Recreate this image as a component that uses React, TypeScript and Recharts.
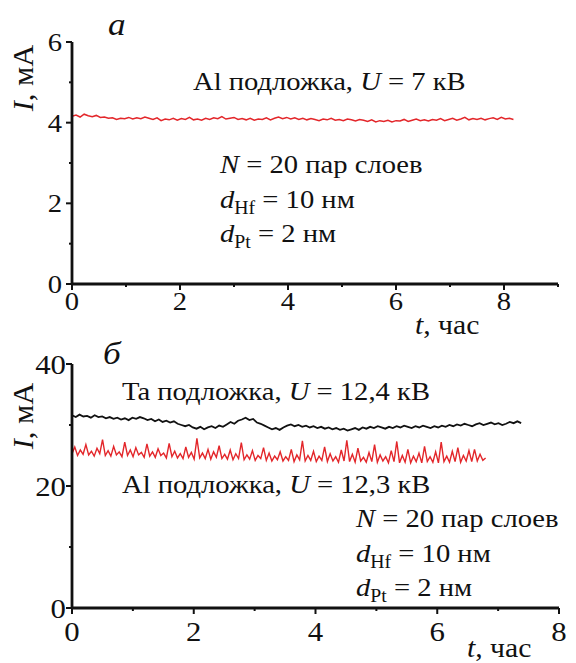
import { LineChart, Line, XAxis, YAxis } from "recharts"

// panel a: Al substrate, U = 7 kV, current in mA, sampled every STEP_A hours
const STEP_A = 0.075
const currentAlA = [
  4.16, 4.19, 4.14, 4.21, 4.17, 4.15, 4.18, 4.13, 4.14, 4.11,
  4.12, 4.08, 4.11, 4.1, 4.13, 4.09, 4.12, 4.1, 4.14, 4.11,
  4.08, 4.12, 4.05, 4.09, 4.07, 4.11, 4.06, 4.1, 4.08, 4.13,
  4.07, 4.09, 4.06, 4.11, 4.08, 4.12, 4.1, 4.15, 4.09, 4.11,
  4.13, 4.08, 4.1, 4.07, 4.11, 4.06, 4.09, 4.08, 4.12, 4.07,
  4.11, 4.14, 4.1, 4.13, 4.09, 4.12, 4.08, 4.11, 4.07, 4.1,
  4.08, 4.05, 4.09, 4.07, 4.11, 4.06, 4.08, 4.05, 4.09, 4.07,
  4.04, 4.08, 4.06, 4.03, 4.07, 4.02, 4.05, 4.03, 4.06, 4.02,
  4.05, 4.04, 4.08, 4.03, 4.06, 4.09, 4.05, 4.07, 4.04, 4.08,
  4.06, 4.1, 4.05, 4.08, 4.11, 4.06, 4.09, 4.13, 4.07, 4.1,
  4.08, 4.11, 4.07, 4.1, 4.12, 4.08, 4.13, 4.09, 4.11, 4.08,
]

// panel b: Ta substrate, U = 12.4 kV
const STEP_TA = 0.062
const currentTa = [
  31.6, 31.3, 31.7, 31.4, 31.5, 31.2, 31.6, 31.3, 31.4, 31.1,
  31.3, 31.0, 31.2, 30.9, 31.1, 30.8, 31.2, 31.0, 31.3, 31.1,
  30.8, 31.0, 30.6, 30.9, 30.5, 30.7, 30.4, 30.6, 30.2, 30.0,
  29.8, 30.0, 29.6, 29.4, 29.7, 29.3, 29.6, 29.8, 29.5, 29.9,
  29.7, 30.1, 30.5, 30.2, 30.7, 30.9, 31.2, 30.8, 31.0, 30.4,
  30.2, 29.9, 29.6, 29.3, 29.5, 29.2, 29.6, 29.9, 30.1, 29.8,
  30.0, 29.7, 29.9, 29.6, 29.8, 29.5, 29.7, 29.4, 29.6, 29.3,
  29.5, 29.2, 29.4, 29.1, 29.3, 29.5, 29.2, 29.6, 29.4, 29.7,
  29.5, 29.8, 29.6, 29.4, 29.7, 29.5, 29.8, 29.6, 29.9, 29.7,
  29.5, 29.8, 29.6, 29.9, 29.7, 29.5, 29.8, 29.6, 29.9, 29.7,
  30.0, 29.8, 30.1, 29.9, 30.2, 30.0, 29.8, 30.1, 30.3, 30.0,
  30.2, 30.4, 30.1, 30.3, 30.0, 30.2, 30.5, 30.3, 30.6, 30.3,
]

// panel b: Al substrate, U = 12.3 kV
const STEP_ALB = 0.0456
const currentAlB = [
  25.3, 26.4, 25.0, 25.9, 25.2, 26.8, 25.1, 25.7, 24.9, 26.2, 25.3, 27.6, 25.0, 25.8, 24.9,
  26.5, 25.1, 25.6, 24.8, 27.2, 25.0, 25.9, 24.8, 26.3, 25.1, 25.5, 24.7, 26.9, 24.9, 25.6,
  24.7, 26.1, 25.0, 25.4, 24.6, 27.0, 24.8, 25.7, 24.6, 25.3, 24.5, 26.4, 24.7, 25.5, 24.4,
  27.8, 24.6, 25.4, 24.5, 26.0, 24.4, 25.6, 24.7, 26.6, 24.5, 25.2, 24.4, 25.9, 24.3, 25.3,
  24.5, 27.1, 24.3, 25.1, 24.4, 25.8, 24.2, 25.0, 24.5, 26.3, 24.2, 25.4, 24.1, 24.9, 24.3,
  25.6, 24.1, 24.8, 24.2, 26.0, 24.0, 25.1, 24.3, 27.4, 24.1, 25.0, 24.2, 25.7, 24.0, 24.9,
  24.2, 26.4, 24.0, 25.3, 24.1, 24.8, 23.9, 25.9, 24.1, 27.5, 24.0, 25.2, 23.9, 26.2, 24.1,
  24.7, 23.9, 25.5, 24.0, 26.8, 23.9, 25.1, 24.1, 24.8, 23.8, 25.8, 24.0, 27.3, 23.8, 25.0,
  23.9, 26.0, 23.8, 24.9, 24.0, 25.4, 23.8, 26.5, 24.0, 24.8, 23.9, 25.6, 23.8, 27.2, 24.0,
  24.9, 23.9, 25.7, 24.0, 26.3, 23.9, 25.0, 24.1, 25.8, 24.0, 26.0, 24.1, 25.2, 24.2, 24.6,
]

const ticksXA = [0, 1, 2, 3, 4, 5, 6, 7, 8, 9]
const ticksYA = [0, 1, 2, 3, 4, 5, 6]
const ticksXB = [0, 1, 2, 3, 4, 5, 6, 7, 8]
const ticksYB = [0, 10, 20, 30, 40]

const FONT = "'Liberation Serif', 'Times New Roman', Times, serif"
const INK = "#111"
const RED = "#e3262a"
// the scanned figure is a little wider than tall, so text gets a slight horizontal stretch
const SX = 1.1

const toPoints = (values: number[], step: number) =>
  values.map((v, i) => ({ t: +(i * step).toFixed(4), v }))

function T({
  x,
  y,
  size,
  anchor = "start",
  italic = false,
  children,
}: {
  x: number
  y: number
  size: number
  anchor?: "start" | "middle" | "end"
  italic?: boolean
  children: React.ReactNode
}) {
  return (
    <text
      transform={`translate(${x},${y}) scale(${SX},1)`}
      textAnchor={anchor}
      style={{ fontFamily: FONT, fontSize: size, fontStyle: italic ? "italic" : "normal" }}
      fill={INK}
    >
      {children}
    </text>
  )
}

function makeXTick(fontSize: number, labelDy: number) {
  return function XTick(props: any) {
    const { x, y, payload } = props
    const major = payload.value % 2 === 0
    return (
      <g>
        <line x1={x} x2={x} y1={y} y2={y + (major ? 6 : 3)} stroke={INK} strokeWidth={2} />
        {major && (
          <T x={x} y={y + labelDy} size={fontSize} anchor="middle">
            {payload.value}
          </T>
        )}
      </g>
    )
  }
}

function makeYTick(fontSize: number, labelDx: number, majorEvery: number) {
  return function YTick(props: any) {
    const { x, y, payload } = props
    const major = payload.value % majorEvery === 0
    return (
      <g>
        <line x1={x - (major ? 6 : 3)} x2={x} y1={y} y2={y} stroke={INK} strokeWidth={2} />
        {major && (
          <T x={x - labelDx} y={y + fontSize * 0.34} size={fontSize} anchor="end">
            {payload.value}
          </T>
        )}
      </g>
    )
  }
}

function Params({ x, y, size }: { x: number; y: number; size: number }) {
  const sub = Math.round(size * 0.7)
  return (
    <g>
      <T x={x} y={y} size={size}>
        <tspan fontStyle="italic">N</tspan> = 20 пар слоев
      </T>
      <T x={x} y={y + 35} size={size}>
        <tspan fontStyle="italic">d</tspan>
        <tspan fontSize={sub} dy={6}>Hf</tspan>
        <tspan dy={-6}> = 10 нм</tspan>
      </T>
      <T x={x} y={y + 69} size={size}>
        <tspan fontStyle="italic">d</tspan>
        <tspan fontSize={sub} dy={6}>Pt</tspan>
        <tspan dy={-6}> = 2 нм</tspan>
      </T>
    </g>
  )
}

function YLabel({ cx, cy, size }: { cx: number; cy: number; size: number }) {
  return (
    <text
      transform={`translate(${cx},${cy}) rotate(-90) scale(1.05,1)`}
      textAnchor="middle"
      style={{ fontFamily: FONT, fontSize: size }}
      fill={INK}
    >
      <tspan fontStyle="italic">I</tspan>, мА
    </text>
  )
}

const axisLine = { stroke: INK, strokeWidth: 2.8 }

export default function App() {
  const dataA = toPoints(currentAlA, STEP_A)
  const dataTa = toPoints(currentTa, STEP_TA)
  const dataAlB = toPoints(currentAlB, STEP_ALB)

  return (
    <div style={{ position: "absolute", left: 0, top: 0, width: 576, height: 663, background: "#fff" }}>
      <div style={{ position: "absolute", left: 0, top: 0 }}>
        <LineChart width={576} height={340} margin={{ top: 42, right: 18, bottom: 55, left: 71 }}>
          <XAxis
            type="number"
            dataKey="t"
            domain={[0, 9]}
            ticks={ticksXA}
            height={1}
            tickSize={0}
            tickMargin={0}
            tickLine={false}
            axisLine={axisLine}
            tick={makeXTick(26, 26)}
            interval={0}
            allowDataOverflow
          />
          <YAxis
            type="number"
            dataKey="v"
            domain={[0, 6]}
            ticks={ticksYA}
            width={1}
            tickSize={0}
            tickMargin={0}
            tickLine={false}
            axisLine={axisLine}
            tick={makeYTick(26, 10, 2)}
            interval={0}
          />
          <Line data={dataA} dataKey="v" stroke={RED} strokeWidth={1.5} dot={false} isAnimationActive={false} />
        </LineChart>
      </div>
      <div style={{ position: "absolute", left: 0, top: 340 }}>
        <LineChart width={576} height={323} margin={{ top: 24, right: 17, bottom: 54, left: 71 }}>
          <XAxis
            type="number"
            dataKey="t"
            domain={[0, 8]}
            ticks={ticksXB}
            height={1}
            tickSize={0}
            tickMargin={0}
            tickLine={false}
            axisLine={axisLine}
            tick={makeXTick(28, 33)}
            interval={0}
            allowDataOverflow
          />
          <YAxis
            type="number"
            dataKey="v"
            domain={[0, 40]}
            ticks={ticksYB}
            width={1}
            tickSize={0}
            tickMargin={0}
            tickLine={false}
            axisLine={axisLine}
            tick={makeYTick(28, 6, 20)}
            interval={0}
          />
          <Line data={dataTa} dataKey="v" stroke={INK} strokeWidth={1.8} dot={false} isAnimationActive={false} />
          <Line data={dataAlB} dataKey="v" stroke={RED} strokeWidth={1.4} dot={false} isAnimationActive={false} />
        </LineChart>
      </div>
      <svg width={576} height={663} style={{ position: "absolute", left: 0, top: 0, pointerEvents: "none" }}>
        {/* panel a */}
        <T x={108} y={35} size={32} italic>a</T>
        <YLabel cx={33} cy={78} size={29} />
        <T x={193} y={90} size={26}>
          Al подложка, <tspan fontStyle="italic">U</tspan> = 7 кВ
        </T>
        <Params x={220} y={173} size={26} />
        <T x={415} y={334} size={27}>
          <tspan fontStyle="italic">t</tspan>, час
        </T>
        {/* panel b */}
        <T x={103} y={364} size={32} italic>б</T>
        <YLabel cx={33} cy={416} size={29} />
        <T x={122} y={400} size={26}>
          Ta подложка, <tspan fontStyle="italic">U</tspan> = 12,4 кВ
        </T>
        <T x={122} y={493} size={26}>
          Al подложка, <tspan fontStyle="italic">U</tspan> = 12,3 кВ
        </T>
        <Params x={356} y={527} size={26} />
        <T x={467} y={657} size={27}>
          <tspan fontStyle="italic">t</tspan>, час
        </T>
      </svg>
    </div>
  )
}
